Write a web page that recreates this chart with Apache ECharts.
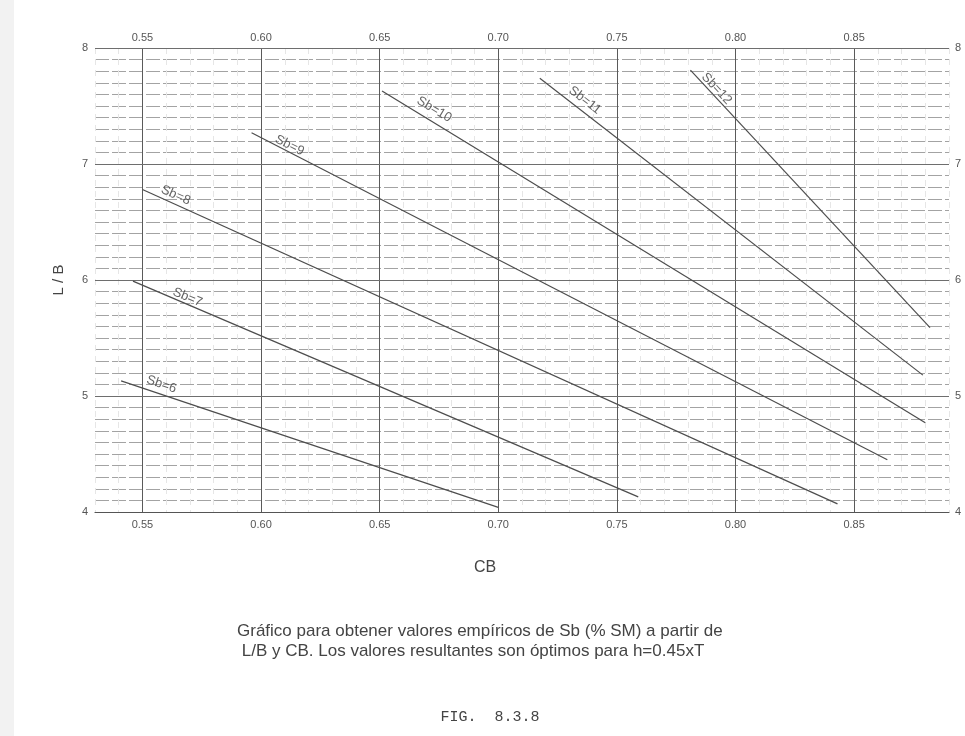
<!DOCTYPE html>
<html>
<head>
<meta charset="utf-8">
<script src="https://cdn.jsdelivr.net/npm/echarts@6/dist/echarts.min.js"></script>
<style>
html,body{margin:0;padding:0;background:#fff;}
#chart{width:965px;height:736px;}
</style>
</head>
<body>
<div id="chart"></div>
<script>
// ---- data ----
const sbNames = ['Sb=6', 'Sb=7', 'Sb=8', 'Sb=9', 'Sb=10', 'Sb=11', 'Sb=12'];
const cbStart = [0.541, 0.546, 0.550, 0.596, 0.651, 0.7175, 0.781];
const lbStart = [5.13, 5.99, 6.78, 7.27, 7.63, 7.74, 7.81];
const cbEnd   = [0.700, 0.759, 0.843, 0.864, 0.880, 0.879, 0.882];
const lbEnd   = [4.04, 4.13, 4.07, 4.45, 4.77, 5.18, 5.59];
const labelCB = [0.558, 0.569, 0.564, 0.612, 0.673, 0.7365, 0.792];
const labelLB = [5.10, 5.85, 6.73, 7.16, 7.47, 7.55, 7.65];
const labelAngle = [19, 23, 24, 27, 31, 38, 47];
const cbMajor = [0.55, 0.60, 0.65, 0.70, 0.75, 0.80, 0.85];
const lbMajor = [5, 6, 7, 8];
const xTitle = 'CB';
const yTitle = 'L / B';
const captionLines = [
  'Gráfico para obtener valores empíricos de Sb (% SM) a partir de',
  ' L/B y CB. Los valores resultantes son óptimos para h=0.45xT'
];
const figLabel = 'FIG.  8.3.8';

const chart = echarts.init(document.getElementById('chart'), null, {renderer: 'canvas'});
const FONT = '"Liberation Sans", Arial, sans-serif';

function xFmt(v) {
  const k = Math.round(v * 100);
  return (k % 5 === 0) ? (k / 100).toFixed(2) : '';
}
function yFmt(v) {
  const k = Math.round(v * 10);
  return (k % 10 === 0) ? String(k / 10) : '';
}

const series = [];
sbNames.forEach((n, i) => {
  series.push({
    type: 'line',
    name: n,
    xAxisIndex: 0, yAxisIndex: 0,
    data: [[cbStart[i], lbStart[i]], [cbEnd[i], lbEnd[i]]],
    symbol: 'none',
    lineStyle: {color: '#4d4d4d', width: 1.2},
    silent: true,
    z: 5
  });
});
series.push({
  type: 'scatter',
  xAxisIndex: 0, yAxisIndex: 0,
  symbolSize: 0,
  data: sbNames.map((n, i) => ({
    name: n,
    value: [labelCB[i], labelLB[i]],
    label: {rotate: -labelAngle[i]}
  })),
  label: {
    show: true,
    position: 'inside',
    formatter: p => p.name,
    fontFamily: FONT,
    fontSize: 13,
    color: '#3f3f3f'
  },
  silent: true,
  z: 6
});
// major grid lines drawn through the axes
series.push({
  type: 'line',
  xAxisIndex: 0, yAxisIndex: 0,
  data: [],
  markLine: {
    silent: true,
    symbol: 'none',
    label: {show: false},
    lineStyle: {color: '#5a5a5a', width: 1, type: 'solid'},
    data: cbMajor.map(v => ({xAxis: v})).concat(lbMajor.map(v => ({yAxis: v, lineStyle: {color: '#6e6e6e', width: 1.2, type: 'solid'}})))
  },
  z: 3
});

const option = {
  backgroundColor: '#ffffff',
  animation: false,
  grid: {left: 95, right: 16, top: 48, bottom: 224, containLabel: false},
  xAxis: [
    {
      type: 'value', position: 'bottom',
      min: 0.53, max: 0.89, interval: 0.01,
      axisLine: {show: true, onZero: false, lineStyle: {color: '#555', width: 1.2}},
      axisTick: {show: false},
      axisLabel: {formatter: xFmt, fontFamily: FONT, fontSize: 11, color: '#555', margin: 7},
      splitLine: {show: true, lineStyle: {color: '#e6e6e6', width: 1, type: [6, 5]}}
    },
    {
      type: 'value', position: 'top',
      min: 0.53, max: 0.89, interval: 0.01,
      axisLine: {show: false},
      axisTick: {show: false},
      axisLabel: {formatter: xFmt, fontFamily: FONT, fontSize: 11, color: '#555', margin: 5},
      splitLine: {show: false}
    }
  ],
  yAxis: [
    {
      type: 'value', position: 'left',
      min: 4, max: 8, interval: 0.1,
      name: yTitle, nameLocation: 'middle', nameGap: 29, nameRotate: 90,
      nameTextStyle: {fontFamily: FONT, fontSize: 15, color: '#444'},
      axisLine: {show: false},
      axisTick: {show: false},
      axisLabel: {formatter: yFmt, fontFamily: FONT, fontSize: 11, color: '#555', margin: 7},
      splitLine: {show: true, lineStyle: {color: '#a3a3a3', width: 1, type: [14, 3]}}
    },
    {
      type: 'value', position: 'right',
      min: 4, max: 8, interval: 0.1,
      axisLine: {show: false},
      axisTick: {show: false},
      axisLabel: {formatter: yFmt, fontFamily: FONT, fontSize: 11, color: '#555', margin: 6},
      splitLine: {show: false}
    }
  ],
  graphic: [
    {type: 'rect', left: 0, top: 0, shape: {width: 14, height: 736}, style: {fill: '#f2f2f2'}, silent: true, z: -10},
    {type: 'text', x: 485, y: 568, style: {text: xTitle, font: '16px ' + FONT, fill: '#444', align: 'center', verticalAlign: 'middle'}},
    {type: 'text', x: 237, y: 631, style: {text: captionLines[0], font: '17px ' + FONT, fill: '#444', align: 'left', verticalAlign: 'middle'}},
    {type: 'text', x: 237, y: 651, style: {text: captionLines[1], font: '17px ' + FONT, fill: '#444', align: 'left', verticalAlign: 'middle'}},
    {type: 'text', x: 490, y: 717, style: {text: figLabel, font: '15px "Liberation Mono", "Courier New", monospace', fill: '#444', align: 'center', verticalAlign: 'middle'}}
  ],
  series: series
};
chart.setOption(option);
</script>
</body>
</html>
